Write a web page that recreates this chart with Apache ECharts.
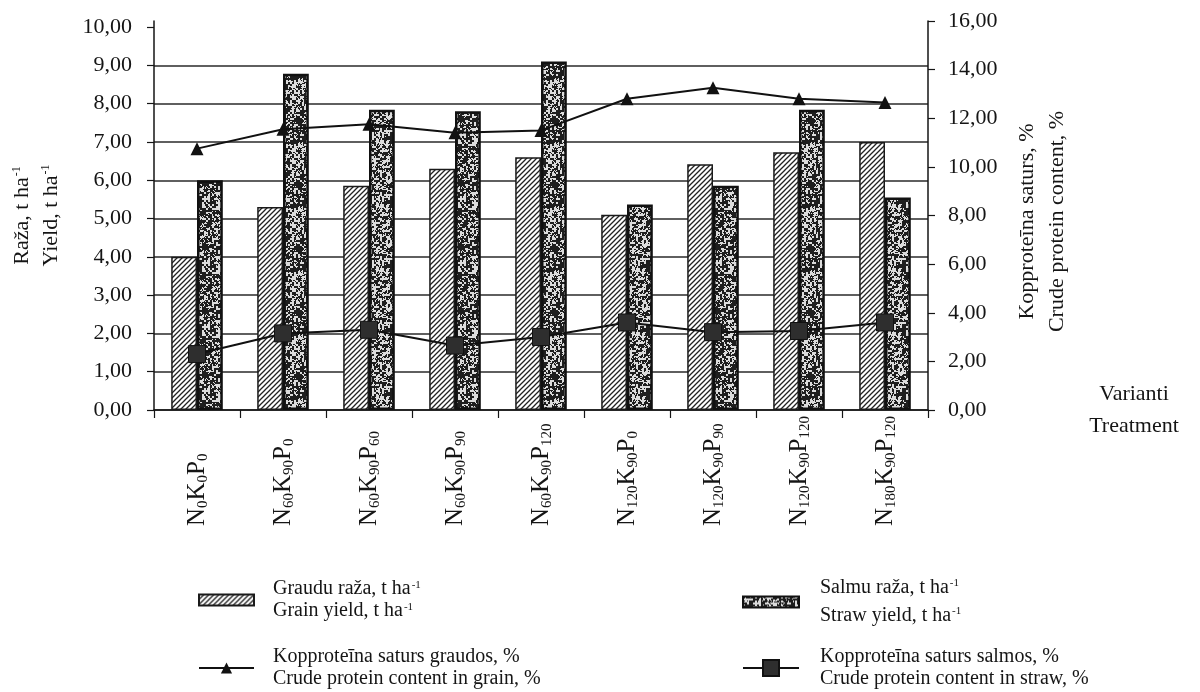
<!DOCTYPE html>
<html>
<head>
<meta charset="utf-8">
<script src="https://cdn.jsdelivr.net/npm/echarts@6/dist/echarts.min.js"></script>
<style>
html,body{margin:0;padding:0;background:#fff;}
#chart{width:1200px;height:692px;}
</style>
</head>
<body>
<div id="chart"></div>
<script>
// ---- data ----
const categories = ['N0K0P0','N60K90P0','N60K90P60','N60K90P90','N60K90P120','N120K90P0','N120K90P90','N120K90P120','N180K90P120'];
const grainYield = [4.00, 5.30, 5.86, 6.30, 6.60, 5.10, 6.42, 6.73, 7.00];
const strawYield = [6.00, 8.78, 7.84, 7.80, 9.10, 5.37, 5.86, 7.84, 5.55];
const grainProtein = [10.75, 11.55, 11.75, 11.40, 11.50, 12.80, 13.25, 12.80, 12.65];
const strawProtein = [2.30, 3.15, 3.30, 2.65, 3.00, 3.60, 3.20, 3.25, 3.60];
const leftTickValues = [0,1,2,3,4,5,6,7,8,9,10];
const seriesNames = ['Graudu raža', 'Salmu raža', 'Kopproteīna saturs graudos', 'Kopproteīna saturs salmos'];

const FONT = '"Liberation Serif", "Times New Roman", "DejaVu Serif", serif';
const INK = '#151515';

// ---- textures ----
function hash(x, y) {
  let h = (Math.imul(x, 374761393) + Math.imul(y, 668265263)) | 0;
  h = Math.imul(h ^ (h >>> 13), 1274126177);
  h = h ^ (h >>> 16);
  return (h >>> 0) / 4294967296;
}
function hatchCanvas() {
  const s = 5;
  const c = document.createElement('canvas'); c.width = s; c.height = s;
  const g = c.getContext('2d');
  g.fillStyle = '#fff'; g.fillRect(0, 0, s, s);
  g.strokeStyle = '#222'; g.lineWidth = 1.3;
  g.beginPath();
  g.moveTo(-1, s + 1); g.lineTo(s + 1, -1);
  g.moveTo(-1, 1); g.lineTo(1, -1);
  g.moveTo(s - 1, s + 1); g.lineTo(s + 1, s - 1);
  g.stroke();
  return c;
}
function speckleCanvas(threshold, dark, light) {
  const n = 64;
  const c = document.createElement('canvas'); c.width = n; c.height = n;
  const g = c.getContext('2d');
  const img = g.createImageData(n, n);
  for (let y = 0; y < n; y++) {
    for (let x = 0; x < n; x++) {
      const v = hash(x >> 1, y >> 1) * 0.65 + hash(x + 101, y + 57) * 0.35;
      const col = v < threshold ? dark : light;
      const i = (y * n + x) * 4;
      img.data[i] = col; img.data[i + 1] = col; img.data[i + 2] = col; img.data[i + 3] = 255;
    }
  }
  g.putImageData(img, 0, 0);
  return c;
}
const hatchFill = { image: hatchCanvas(), repeat: 'repeat' };
const speckleFill = { image: speckleCanvas(0.53, 30, 220), repeat: 'repeat' };

function fmt2(v) { return v.toFixed(2).replace('.', ','); }
function catLabel(c) {
  const m = c.match(/^N(\d+)K(\d+)P(\d+)$/);
  return '{m|N}{s|' + m[1] + '}{m|K}{s|' + m[2] + '}{m|P}{s|' + m[3] + '}';
}

const legendRich = {
  t: { fontFamily: FONT, fontSize: 20, color: INK, lineHeight: 22 },
  u: { fontFamily: FONT, fontSize: 11, color: INK, lineHeight: 22, verticalAlign: 'top', padding: [2, 0, 0, 1] }
};
const legendRichWide = {
  t: { fontFamily: FONT, fontSize: 20, color: INK, lineHeight: 28 },
  u: { fontFamily: FONT, fontSize: 11, color: INK, lineHeight: 28, verticalAlign: 'top', padding: [4, 0, 0, 1] }
};

const chart = echarts.init(document.getElementById('chart'), null, { renderer: 'canvas' });

const option = {
  animation: false,
  backgroundColor: '#fff',
  grid: { left: 150, right: 272, top: 21, bottom: 282, containLabel: false },
  legend: [
    {
      data: [seriesNames[0]], left: 198, top: 578, padding: 0, icon: 'rect',
      itemWidth: 55, itemHeight: 11, selectedMode: false,
      formatter: () => '{t|Graudu raža, t ha}{u|-1}\n{t|Grain yield, t ha}{u|-1}',
      textStyle: { rich: legendRich, padding: [0, 0, 0, 14] }
    },
    {
      data: [seriesNames[1]], left: 742, top: 574, padding: 0, icon: 'rect',
      itemWidth: 56, itemHeight: 11, selectedMode: false,
      formatter: () => '{t|Salmu raža, t ha}{u|-1}\n{t|Straw yield, t ha}{u|-1}',
      textStyle: { rich: legendRichWide, padding: [0, 0, 0, 16] }
    },
    {
      data: [seriesNames[2]], left: 198, top: 647, padding: 0,
      itemWidth: 55, itemHeight: 14, selectedMode: false,
      formatter: () => '{t|Kopproteīna saturs graudos, %}\n{t|Crude protein content in grain, %}',
      textStyle: { rich: legendRich, padding: [0, 0, 0, 14] }
    },
    {
      data: [seriesNames[3]], left: 742, top: 647, padding: 0,
      itemWidth: 56, itemHeight: 20, selectedMode: false,
      formatter: () => '{t|Kopproteīna saturs salmos, %}\n{t|Crude protein content in straw, %}',
      textStyle: { rich: legendRich, padding: [0, 0, 0, 16] }
    }
  ],
  xAxis: {
    type: 'category',
    data: categories,
    boundaryGap: true,
    axisLine: { lineStyle: { color: INK, width: 1.5 } },
    axisTick: { show: true, length: 8, lineStyle: { color: INK, width: 1.2 } },
    axisLabel: {
      interval: 0, rotate: 90, align: 'left', verticalAlign: 'middle', margin: 116,
      formatter: catLabel,
      rich: {
        m: { fontFamily: FONT, fontSize: 25, color: INK, lineHeight: 27 },
        s: { fontFamily: FONT, fontSize: 15, color: INK, lineHeight: 27, verticalAlign: 'bottom' }
      }
    },
    name: '{a|Varianti}\n{a|Treatment}',
    nameLocation: 'end',
    nameGap: 150,
    nameTextStyle: {
      rich: { a: { fontFamily: FONT, fontSize: 22, color: INK, lineHeight: 32, width: 112, align: 'center' } }
    },
    splitLine: { show: false }
  },
  yAxis: [
    {
      type: 'value', position: 'left', min: 0, max: 10.16, interval: 1,
      axisLine: { show: true, lineStyle: { color: INK, width: 1.5 } },
      axisTick: { show: true, length: 7, customValues: leftTickValues, lineStyle: { color: INK, width: 1.2 } },
      axisLabel: {
        customValues: leftTickValues, margin: 22,
        fontFamily: FONT, fontSize: 22, color: INK,
        formatter: v => (Math.abs(v - Math.round(v)) > 1e-6 ? '' : fmt2(v))
      },
      splitLine: {
        show: true,
        lineStyle: {
          width: 1.5,
          color: ['#2a2a2a','#2a2a2a','#2a2a2a','#2a2a2a','#2a2a2a','#2a2a2a','#2a2a2a','#2a2a2a','#2a2a2a','#2a2a2a','rgba(0,0,0,0)','rgba(0,0,0,0)']
        }
      },
      name: '{t|Raža, t ha}{u|-1}\n{t|Yield, t ha}{u|-1}',
      nameLocation: 'middle', nameRotate: 90, nameGap: 88,
      nameTextStyle: {
        rich: {
          t: { fontFamily: FONT, fontSize: 22, color: INK, lineHeight: 29 },
          u: { fontFamily: FONT, fontSize: 12, color: INK, lineHeight: 29, verticalAlign: 'top', padding: [3, 0, 0, 1] }
        }
      }
    },
    {
      type: 'value', position: 'right', min: 0, max: 16, interval: 2,
      axisLine: { show: true, lineStyle: { color: INK, width: 1.5 } },
      axisTick: { show: true, length: 7, lineStyle: { color: INK, width: 1.2 } },
      axisLabel: { margin: 20, fontFamily: FONT, fontSize: 22, color: INK, formatter: v => fmt2(v) },
      splitLine: { show: false },
      name: '{t|Kopproteīna saturs, %}\n{t|Crude protein content, %}',
      nameLocation: 'middle', nameRotate: 90, nameGap: 84,
      nameTextStyle: {
        padding: [0, 12, 0, 0],
        rich: { t: { fontFamily: FONT, fontSize: 22, color: INK, lineHeight: 30 } }
      }
    }
  ],
  series: [
    {
      name: seriesNames[0], type: 'bar', yAxisIndex: 0, data: grainYield,
      barGap: '0%', barCategoryGap: '40%',
      itemStyle: { color: hatchFill, borderColor: '#1a1a1a', borderWidth: 1.5 }
    },
    {
      name: seriesNames[1], type: 'bar', yAxisIndex: 0, data: strawYield,
      barGap: '0%', barCategoryGap: '40%',
      itemStyle: { color: speckleFill, borderColor: '#111', borderWidth: 2.5 }
    },
    {
      name: seriesNames[2], type: 'line', yAxisIndex: 1, data: grainProtein, z: 5,
      symbol: 'triangle', symbolSize: 13, showAllSymbol: true,
      lineStyle: { color: '#111', width: 2 },
      itemStyle: { color: '#111', borderColor: '#111', borderWidth: 0 }
    },
    {
      name: seriesNames[3], type: 'line', yAxisIndex: 1, data: strawProtein, z: 5,
      symbol: 'rect', symbolSize: 17, showAllSymbol: true,
      lineStyle: { color: '#111', width: 2 },
      itemStyle: { color: '#2e2e2e', borderColor: '#111', borderWidth: 1 }
    }
  ]
};
chart.setOption(option);
</script>
</body>
</html>
